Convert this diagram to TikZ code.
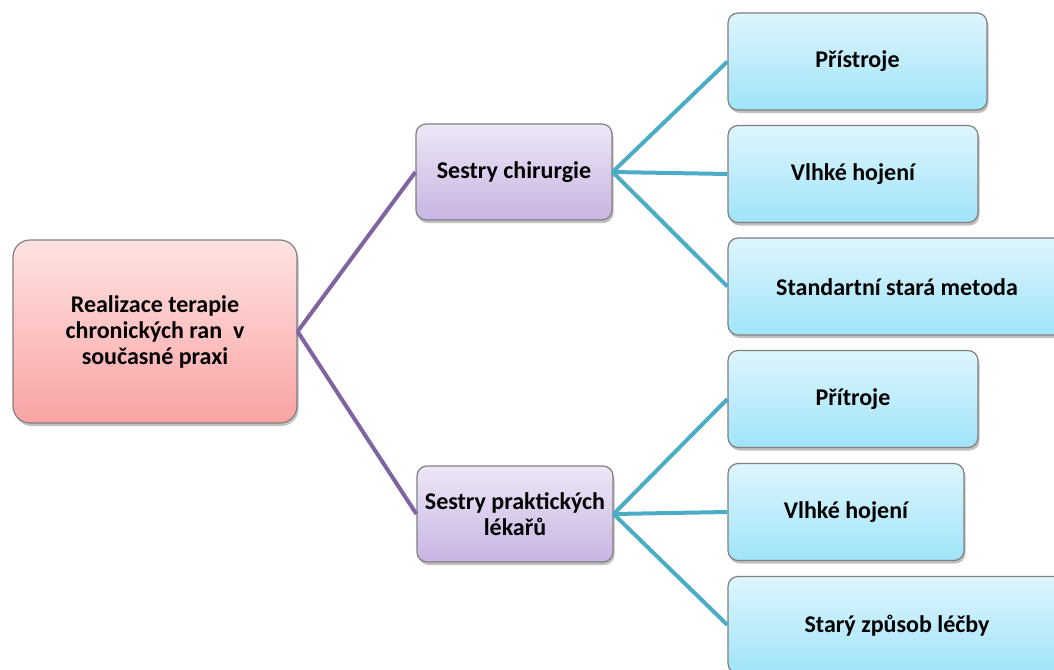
\documentclass[tikz,border=0pt]{standalone}
\usepackage{fontspec}
\setmainfont{Carlito}
\usetikzlibrary{shadows,shadings}

\definecolor{edgegray}{RGB}{128,128,128}
\definecolor{rootTop}{RGB}{255,226,226}
\definecolor{rootBot}{RGB}{250,164,164}
\definecolor{midTop}{RGB}{238,231,246}
\definecolor{midBot}{RGB}{200,180,226}
\definecolor{leafTop}{RGB}{222,245,252}
\definecolor{leafBot}{RGB}{160,228,250}
\definecolor{purpleLink}{RGB}{128,100,162}
\definecolor{tealLink}{RGB}{75,172,198}

\tikzset{
  boxfont/.style={font=\fontsize{24}{26}\selectfont\bfseries, text=black},
  box/.style={draw=edgegray, line width=1.2pt, align=center, boxfont,
    drop shadow={shadow xshift=1.5pt, shadow yshift=-3pt, opacity=0.35, fill=black!70}},
  rootbox/.style={box, rounded corners=17pt, top color=rootTop, bottom color=rootBot,
    minimum width=284pt, minimum height=183pt},
  midbox/.style={box, rounded corners=10pt, top color=midTop, bottom color=midBot,
    minimum width=196pt, minimum height=96pt},
  leafbox/.style={box, rounded corners=10pt, top color=leafTop, bottom color=leafBot,
    minimum height=97pt},
  purplelink/.style={draw=purpleLink, line width=4pt},
  teallink/.style={draw=tealLink, line width=4pt},
}

\begin{document}
\begin{tikzpicture}[x=1pt, y=-1pt]
  \useasboundingbox (0,0) rectangle (1054,669);

  % root topic
  \node[rootbox] (root) at (155,331.5)
    {Realizace terapie\\chronických ran~ v\\současné praxi};

  % two groups of nurses
  \node[midbox] (surg) at (514,172) {Sestry chirurgie};
  \node[midbox] (prac) at (515,514) {Sestry praktických\\lékařů};

  % answers of the surgical nurses
  \node[leafbox, minimum width=259pt] (s1) at (857.5,61.5) {Přístroje};
  \node[leafbox, minimum width=250pt] (s2) at (853,174) {Vlhké hojení};
  \node[leafbox, minimum width=340pt] (s3) at (898,286.5) {};
  \node[boxfont] (s3t) at (897,287) {Standartní stará metoda};

  % answers of the practitioners' nurses
  \node[leafbox, minimum width=250pt] (p1) at (853,399) {Přítroje};
  \node[leafbox, minimum width=236pt] (p2) at (846,512) {Vlhké hojení};
  \node[leafbox, minimum width=340pt] (p3) at (898,625) {};
  \node[boxfont] (p3t) at (897,626) {Starý způsob léčby};

  % connectors
  \draw[purplelink] (root.east) -- (surg.west);
  \draw[purplelink] (root.east) -- (prac.west);
  \foreach \n in {s1,s2,s3} \draw[teallink] (surg.east) -- (\n.west);
  \foreach \n in {p1,p2,p3} \draw[teallink] (prac.east) -- (\n.west);
\end{tikzpicture}
\end{document}
